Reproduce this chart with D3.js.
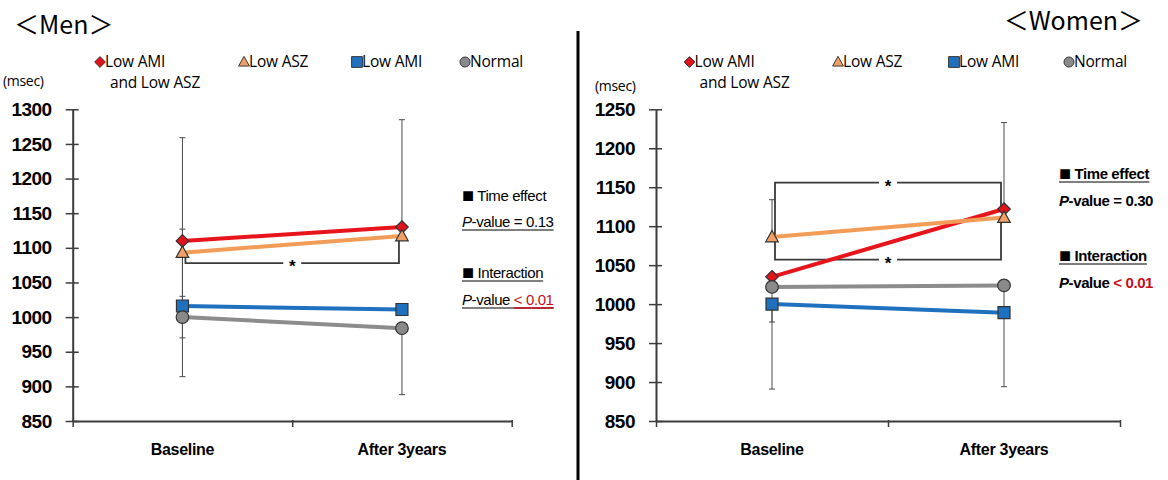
<!DOCTYPE html>
<html><head><meta charset="utf-8">
<script src="https://cdn.jsdelivr.net/npm/d3@7"></script>
<style>
body{margin:0;background:#fff}
svg{display:block}
</style>
</head><body>
<svg id="chart" width="1168" height="480"></svg>
<script>
// ---- data ----
const periods = ["Baseline", "After 3years"];
const groupLabels = [["Low AMI", "and Low ASZ"], ["Low ASZ"], ["Low AMI"], ["Normal"]];
const groupLine = ["#e8141c", "#f39c58", "#1f70be", "#8c8c8c"];
const groupFill = ["#e0121a", "#f0a064", "#1f70be", "#8a8a8a"];
const groupShape = ["diamond", "triangle", "square", "circle"];

const menTicks = [850, 900, 950, 1000, 1050, 1100, 1150, 1200, 1250, 1300];
const menLowAmiLowAsz = [1110, 1130];
const menLowAsz = [1093, 1117];
const menLowAmi = [1016, 1011];
const menNormal = [1000, 984];
const menErrUpper = [[1259, 1285], [null, null], [1127, null], [1030, null]];
const menErrLower = [[null, null], [970, null], [null, null], [914, 888]];
const menBracketLevel = [1078];
const menBracketLeft = [1093];
const menBracketRight = [1117];

const womenTicks = [850, 900, 950, 1000, 1050, 1100, 1150, 1200, 1250];
const womenLowAmiLowAsz = [1035, 1122];
const womenLowAsz = [1086, 1111];
const womenLowAmi = [1000, 989];
const womenNormal = [1022, 1024];
const womenErrUpper = [[null, 1233], [1134, null], [null, null], [null, null]];
const womenErrLower = [[null, null], [null, null], [977, null], [891, 894]];
const womenBracketLevel = [1156, 1057];
const womenBracketLeft = [1086, 1086];
const womenBracketRight = [1122, 1111];

const svg = d3.select("#chart");
svg.append("rect").attr("width", 1168).attr("height", 480).attr("fill", "#fff");

// divider between the two panels
svg.append("line").attr("x1", 578).attr("x2", 578).attr("y1", 31).attr("y2", 480)
  .attr("stroke", "#000").attr("stroke-width", 3);

const cjk = "'Noto Sans CJK JP', 'Noto Sans', sans-serif";
const arial = "'Liberation Sans', Arial, sans-serif";
const legendFont = "'Open Sans', Lato, sans-serif";

function markerPath(shape, s) {
  if (shape === "diamond") return `M0,${-s}L${s},0L0,${s}L${-s},0Z`;
  if (shape === "triangle") return `M0,${-s * 1.05}L${s},${s * 0.75}L${-s},${s * 0.75}Z`;
  if (shape === "square") return `M${-s},${-s}H${s}V${s}H${-s}Z`;
  return d3.symbol(d3.symbolCircle, Math.PI * s * s)();
}

function drawPanel(p) {
  const g = svg.append("g");
  const x = d3.scaleBand().domain(periods).range([p.x0, p.x1]);
  const xc = d => x(d) + x.bandwidth() / 2;
  const y = d3.scaleLinear().domain([p.ticks[0], p.ticks[p.ticks.length - 1]]).range([421, 109.3]);

  // title
  g.append("text").attr("x", p.titleX).attr("y", p.titleY).attr("text-anchor", p.titleAnchor)
    .attr("font-family", cjk).attr("font-size", 25).attr("fill", "#000").text(p.title);

  // unit
  g.append("text").attr("x", p.unitX).attr("y", p.unitY).attr("font-family", legendFont)
    .attr("font-size", 14).attr("letter-spacing", -0.3).attr("fill", "#000").text("(msec)");

  // legend
  p.legendX.forEach((lx, i) => {
    g.append("path").attr("d", markerPath(groupShape[i], i === 3 ? 5 : 5.4))
      .attr("transform", `translate(${lx},62)`)
      .attr("fill", groupFill[i]).attr("stroke", "#3a3a3a").attr("stroke-width", 1);
    groupLabels[i].forEach((t, k) => {
      g.append("text").attr("x", lx + (k === 0 ? 5 : 10)).attr("y", 67 + k * 21)
        .attr("font-family", legendFont).attr("font-size", 15.5).attr("letter-spacing", -0.2)
        .attr("fill", "#000").text(t);
    });
  });

  // y axis with crossing ticks
  const ya = g.append("g").attr("transform", `translate(${p.x0},0)`)
    .call(d3.axisLeft(y).tickValues(p.ticks).tickFormat(d3.format("d"))
      .tickSizeInner(7).tickSizeOuter(0).tickPadding(14));
  ya.select(".domain").attr("stroke", "#3c3c3c").attr("stroke-width", 2);
  ya.selectAll(".tick line").attr("x1", 6).attr("stroke", "#3c3c3c").attr("stroke-width", 1.5);
  ya.selectAll(".tick text").attr("font-family", arial).attr("font-weight", "bold")
    .attr("font-size", 19).attr("letter-spacing", -0.5).attr("fill", "#000");

  // x axis: boundary ticks at band edges, labels at band centres
  const xb = d3.scaleLinear().domain([0, periods.length]).range([p.x0, p.x1]);
  const xa = g.append("g").attr("transform", "translate(0,421)")
    .call(d3.axisBottom(xb).tickValues(d3.range(periods.length + 1)).tickFormat("")
      .tickSizeInner(6).tickSizeOuter(0));
  xa.select(".domain").attr("stroke", "#3c3c3c").attr("stroke-width", 2);
  xa.selectAll(".tick line").attr("y1", -1).attr("stroke", "#3c3c3c").attr("stroke-width", 1.5);
  g.selectAll(".xlab").data(periods).join("text")
    .attr("x", d => xc(d)).attr("y", 455).attr("text-anchor", "middle")
    .attr("font-family", arial).attr("font-weight", "bold").attr("font-size", 16)
    .attr("letter-spacing", -0.3).attr("fill", "#000").text(d => d);

  // error bars
  const capW = 3;
  [p.errUpper, p.errLower].forEach(errs => {
    errs.forEach((arr, si) => {
      arr.forEach((end, pi) => {
        if (end == null) return;
        const cx = xc(periods[pi]);
        g.append("line").attr("x1", cx).attr("x2", cx)
          .attr("y1", y(p.series[si][pi])).attr("y2", y(end))
          .attr("stroke", "#4a4a4a").attr("stroke-width", 1);
        g.append("line").attr("x1", cx - capW).attr("x2", cx + capW)
          .attr("y1", y(end)).attr("y2", y(end))
          .attr("stroke", "#4a4a4a").attr("stroke-width", 1);
      });
    });
  });

  // significance brackets
  const bx0 = xc(periods[0]) + 3, bx1 = xc(periods[1]) - 3;
  const mid = (p.x0 + p.x1) / 2;
  p.bracketLevel.forEach((lv, i) => {
    const by = y(lv);
    const bg = g.append("g").attr("stroke", "#3a3a3a").attr("stroke-width", 1.8).attr("fill", "none");
    bg.append("path").attr("d", `M${bx0},${y(p.bracketLeft[i])}V${by}H${mid - 9}`);
    bg.append("path").attr("d", `M${mid + 9},${by}H${bx1}V${y(p.bracketRight[i])}`);
    g.append("text").attr("x", mid).attr("y", by + 9).attr("text-anchor", "middle")
      .attr("font-family", arial).attr("font-weight", "bold").attr("font-size", 17)
      .attr("fill", "#000").text("*");
  });

  // series lines
  const line = d3.line().x((d, i) => xc(periods[i])).y(d => y(d));
  p.series.forEach((vals, si) => {
    g.append("path").datum(vals).attr("d", line).attr("fill", "none")
      .attr("stroke", groupLine[si]).attr("stroke-width", 4);
  });

  // markers
  p.series.forEach((vals, si) => {
    vals.forEach((v, pi) => {
      const size = groupShape[si] === "square" ? 6 : 6.3;
      g.append("path").attr("d", markerPath(groupShape[si], size))
        .attr("transform", `translate(${xc(periods[pi])},${y(v)})`)
        .attr("fill", groupFill[si]).attr("stroke", "#333").attr("stroke-width", 1.2);
    });
  });

  // statistics notes
  const notes = g.append("g").attr("font-family", arial).attr("font-size", 15).attr("fill", "#000")
    .attr("font-weight", p.notesBold ? "bold" : "normal");
  p.notes.forEach(n => {
    const t = notes.append("text").attr("x", p.noteX).attr("y", n.y)
      .attr("letter-spacing", -0.4);
    if (n.box) {
      t.append("tspan").attr("font-size", 20).attr("dy", 1).text("\u25A0");
      t.append("tspan").attr("dy", -1).text(" " + n.text);
    } else {
      t.append("tspan").attr("font-style", "italic").text("P");
      t.append("tspan").text("-value ");
      t.append("tspan").attr("fill", n.red ? "#c8101c" : "#000").text(n.text);
    }
    if (n.underline) {
      const bb = t.node().getBBox();
      notes.append("line").attr("x1", bb.x).attr("x2", bb.x + bb.width)
        .attr("y1", n.y + 3).attr("y2", n.y + 3).attr("stroke", "#555").attr("stroke-width", 1.3);
      if (n.red) {
        const last = t.selectAll("tspan").nodes()[2];
        const start = last.getStartPositionOfChar(0).x;
        notes.append("line").attr("x1", start).attr("x2", bb.x + bb.width)
          .attr("y1", n.y + 3).attr("y2", n.y + 3).attr("stroke", "#c8101c").attr("stroke-width", 1.3);
      }
    }
  });
}

drawPanel({
  title: "\uFF1CMen\uFF1E", titleX: 14, titleY: 34, titleAnchor: "start",
  unitX: 3, unitY: 86,
  legendX: [100, 244, 357, 465],
  x0: 72.7, x1: 511.7, ticks: menTicks,
  series: [menLowAmiLowAsz, menLowAsz, menLowAmi, menNormal],
  errUpper: menErrUpper, errLower: menErrLower,
  bracketLevel: menBracketLevel, bracketLeft: menBracketLeft, bracketRight: menBracketRight,
  noteX: 462, notesBold: false,
  notes: [
    { y: 201, box: true, text: "Time effect" },
    { y: 227, text: "= 0.13", underline: true },
    { y: 278, box: true, text: "Interaction", underline: true },
    { y: 305, text: "< 0.01", red: true, underline: true }
  ]
});

drawPanel({
  title: "\uFF1CWomen\uFF1E", titleX: 1143, titleY: 30, titleAnchor: "end",
  unitX: 595, unitY: 91,
  legendX: [689.5, 838, 954, 1069],
  x0: 656, x1: 1120, ticks: womenTicks,
  series: [womenLowAmiLowAsz, womenLowAsz, womenLowAmi, womenNormal],
  errUpper: womenErrUpper, errLower: womenErrLower,
  bracketLevel: womenBracketLevel, bracketLeft: womenBracketLeft, bracketRight: womenBracketRight,
  noteX: 1059, notesBold: true,
  notes: [
    { y: 179, box: true, text: "Time effect", underline: true },
    { y: 206, text: "= 0.30" },
    { y: 261, box: true, text: "Interaction", underline: true },
    { y: 288, text: "< 0.01", red: true }
  ]
});
</script>
</body></html>
